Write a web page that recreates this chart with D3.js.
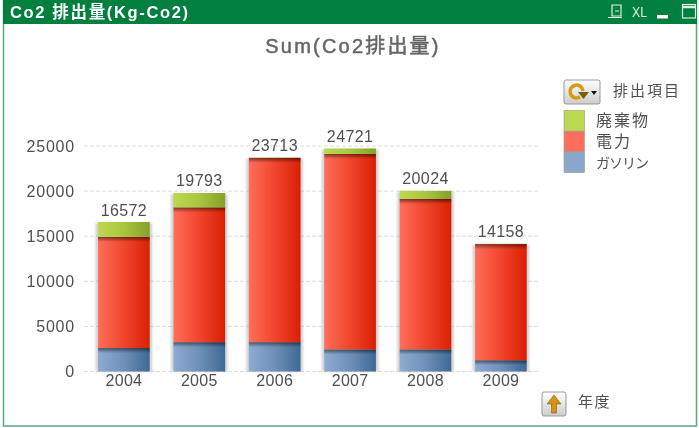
<!DOCTYPE html>
<html lang="ja">
<head>
<meta charset="UTF-8">
<title>Co2 排出量</title>
<script src="https://d3js.org/d3.v7.min.js"></script>
<style>
  html, body { margin: 0; padding: 0; background: #fff; }
  svg { display: block; }
  text { font-family: "Liberation Sans", "Noto Sans CJK JP", sans-serif; fill: #505050; filter: url(#txt); }
</style>
</head>
<body>
<div id="chart"></div>
<script>
const years = ["2004", "2005", "2006", "2007", "2008", "2009"];
const gasoline = [2600, 3250, 3250, 2450, 2450, 1250];
const electricity = [12322, 14943, 20433, 21671, 16674, 12878];
const waste = [1650, 1600, 30, 600, 900, 30];
const totals = [16572, 19793, 23713, 24721, 20024, 14158];
const yTicks = [0, 5000, 10000, 15000, 20000, 25000];
const seriesNames = ["gasoline", "electricity", "waste"];
const legendLabels = ["廃棄物", "電力", "ガソリン"];

const W = 699, H = 428;
const svg = d3.select("#chart").append("svg").attr("width", W).attr("height", H);
const defs = svg.append("defs");

const colors = {
  gasoline: { swatch: "#8aa8c9", stops: ["#8eabd0", "#6f90b8", "#3f6894"] },
  electricity: { swatch: "#ff6e5c", stops: ["#ff6e5a", "#f0452c", "#d92004"] },
  waste: { swatch: "#bcd850", stops: ["#bcd84e", "#a8c640", "#84a02a"] }
};

seriesNames.forEach(s => {
  const g = defs.append("linearGradient").attr("id", "grad-" + s);
  colors[s].stops.forEach((c, i) => g.append("stop").attr("offset", i / 2).attr("stop-color", c));
});
const edgeGrad = defs.append("linearGradient").attr("id", "band-shade").attr("x2", 0).attr("y2", 1);
edgeGrad.append("stop").attr("offset", 0).attr("stop-color", "#000").attr("stop-opacity", 0.5);
edgeGrad.append("stop").attr("offset", 1).attr("stop-color", "#000").attr("stop-opacity", 0);
defs.append("filter").attr("id", "soft").attr("x", "-20%").attr("width", "140%")
  .append("feGaussianBlur").attr("stdDeviation", 1.3);
defs.append("filter").attr("id", "txt")
  .append("feGaussianBlur").attr("stdDeviation", 0.35);
const iconGrad = defs.append("linearGradient").attr("id", "btn").attr("x2", 0).attr("y2", 1);
iconGrad.append("stop").attr("offset", 0).attr("stop-color", "#fff");
iconGrad.append("stop").attr("offset", 1).attr("stop-color", "#ccc");

// window frame and caption
svg.append("rect").attr("x", 3.5).attr("y", 1).attr("width", 693).attr("height", 425)
  .attr("fill", "#fff").attr("stroke", "#5aa97f").attr("stroke-width", 1.5);
svg.append("rect").attr("x", 3).attr("y", 0).attr("width", 694).attr("height", 24).attr("fill", "#007f3f");
svg.append("text").attr("x", 10).attr("y", 18)
  .attr("font-size", 16.5).attr("font-weight", 700).attr("letter-spacing", 1.65).style("fill", "#fff")
  .text("Co2 排出量(Kg-Co2)");

// caption icons
const cap = svg.append("g").attr("fill", "none").attr("stroke", "#dff0e6").attr("stroke-width", 1.2);
cap.append("path").attr("d", "M612 5h9v11h-9zM608 17.5h14M615 11h4");
svg.append("text").attr("x", 632).attr("y", 17).attr("font-size", 15).attr("textLength", 15)
  .attr("lengthAdjust", "spacingAndGlyphs").style("fill", "#dff0e6").text("XL");
svg.append("rect").attr("x", 657).attr("y", 15).attr("width", 11).attr("height", 3.5).attr("fill", "#fff");
cap.append("rect").attr("x", 682.5).attr("y", 4.5).attr("width", 13).attr("height", 13.5);
cap.append("path").attr("d", "M682 7h14").attr("stroke-width", 2.5);

// chart title
svg.append("text").attr("x", 353).attr("y", 53).attr("text-anchor", "middle")
  .attr("font-size", 20).attr("letter-spacing", 2.2).attr("stroke", "#666").attr("stroke-width", 0.5)
  .style("fill", "#666").text("Sum(Co2排出量)");

const x = d3.scaleBand().domain(years).range([86.2, 538.6]).paddingInner(0.315).paddingOuter(0.1575);
const y = d3.scaleLinear().domain([0, 25000]).range([371.5, 146]);

// grid lines
svg.append("g").selectAll("line").data(yTicks).join("line")
  .attr("x1", 84).attr("x2", 539)
  .attr("y1", d => y(d)).attr("y2", d => y(d))
  .attr("stroke", "#dcdcdc").attr("stroke-dasharray", "4,2");

// y axis, line hidden
const yAxis = svg.append("g").attr("transform", "translate(75,0)")
  .call(d3.axisLeft(y).tickValues(yTicks).tickSize(0).tickPadding(0).tickFormat(d3.format("d")));
yAxis.select(".domain").remove();
yAxis.selectAll("text").attr("font-size", 16).attr("letter-spacing", 0.8).attr("font-family", null);

// x axis, line hidden
const xAxis = svg.append("g").attr("transform", "translate(0,371)")
  .call(d3.axisBottom(x).tickSize(0).tickPadding(4));
xAxis.select(".domain").remove();
xAxis.selectAll("text").attr("font-size", 16).attr("letter-spacing", 0.3).attr("font-family", null);

// stacked bars
const rows = years.map((yr, i) => ({ year: yr, gasoline: gasoline[i], electricity: electricity[i], waste: waste[i], total: totals[i] }));
const stack = d3.stack().keys(seriesNames)(rows);

svg.append("g").selectAll("rect").data(rows).join("rect")
  .attr("x", d => x(d.year) - 2.5).attr("width", x.bandwidth() + 5)
  .attr("y", d => y(d.total) + 1).attr("height", d => y(0) - y(d.total) - 1)
  .attr("fill", "#888").attr("opacity", 0.38).attr("filter", "url(#soft)");

const layers = svg.append("g").selectAll("g").data(stack).join("g");
layers.selectAll("rect.seg").data(d => d.map(p => ({ p, key: d.key }))).join("rect")
  .attr("class", "seg")
  .attr("x", d => x(d.p.data.year)).attr("width", x.bandwidth())
  .attr("y", d => y(d.p[1])).attr("height", d => y(d.p[0]) - y(d.p[1]))
  .attr("fill", d => `url(#grad-${d.key})`);

// darker band under the top edge of the lower two series
layers.filter(d => d.key !== "waste").selectAll("rect.shade").data(d => d).join("rect")
  .attr("class", "shade")
  .attr("x", d => x(d.data.year)).attr("width", x.bandwidth())
  .attr("y", d => y(d[1])).attr("height", 5)
  .attr("fill", "url(#band-shade)");

// totals above the bars
svg.append("g").selectAll("text").data(rows).join("text")
  .attr("x", d => x(d.year) + x.bandwidth() / 2)
  .attr("y", d => y(d.total) - 6.5)
  .attr("text-anchor", "middle").attr("font-size", 16).attr("letter-spacing", 0.4)
  .text(d => d.total);

// legend
svg.append("g").selectAll("rect").data(["waste", "electricity", "gasoline"]).join("rect")
  .attr("x", 564).attr("y", (d, i) => 110.5 + i * 20.7).attr("width", 20.5).attr("height", 20.7)
  .attr("fill", d => colors[d].swatch).attr("stroke", "#999").attr("stroke-width", 0.6);
svg.append("g").selectAll("text").data(legendLabels).join("text")
  .attr("x", 596).attr("y", (d, i) => 126 + i * 21)
  .attr("font-size", (d, i) => i === 2 ? 14 : 16)
  .attr("letter-spacing", (d, i) => i === 2 ? -1 : 2)
  .text(d => d);
svg.append("text").attr("x", 613).attr("y", 96).attr("font-size", 15)
  .attr("letter-spacing", 2).text("排出項目");

// cycle button
const cyc = svg.append("g");
cyc.append("rect").attr("x", 564).attr("y", 80).attr("width", 36).attr("height", 24).attr("rx", 2)
  .attr("fill", "url(#btn)").attr("stroke", "#999");
cyc.append("path").attr("d", "M580 97a6.5 6.5 0 1 1 3 -6").attr("fill", "none").attr("stroke", "#d89a10").attr("stroke-width", 3.5);
cyc.append("path").attr("d", "M578 92h11l-5.5 7z").attr("fill", "#7a5a10");
cyc.append("path").attr("d", "M591 91h6l-3 4z").attr("fill", "#111");

// drill-up button
const up = svg.append("g");
up.append("rect").attr("x", 542).attr("y", 392).attr("width", 24).attr("height", 24).attr("rx", 2)
  .attr("fill", "url(#btn)").attr("stroke", "#999");
up.append("path").attr("d", "M554 395l7 9h-4.5v9h-5v-9h-4.5z").attr("fill", "#d8920f").attr("stroke", "#7a5a10").attr("stroke-width", 0.6);
svg.append("text").attr("x", 578).attr("y", 407).attr("font-size", 15)
  .attr("letter-spacing", 1.5).text("年度");
</script>
</body>
</html>
